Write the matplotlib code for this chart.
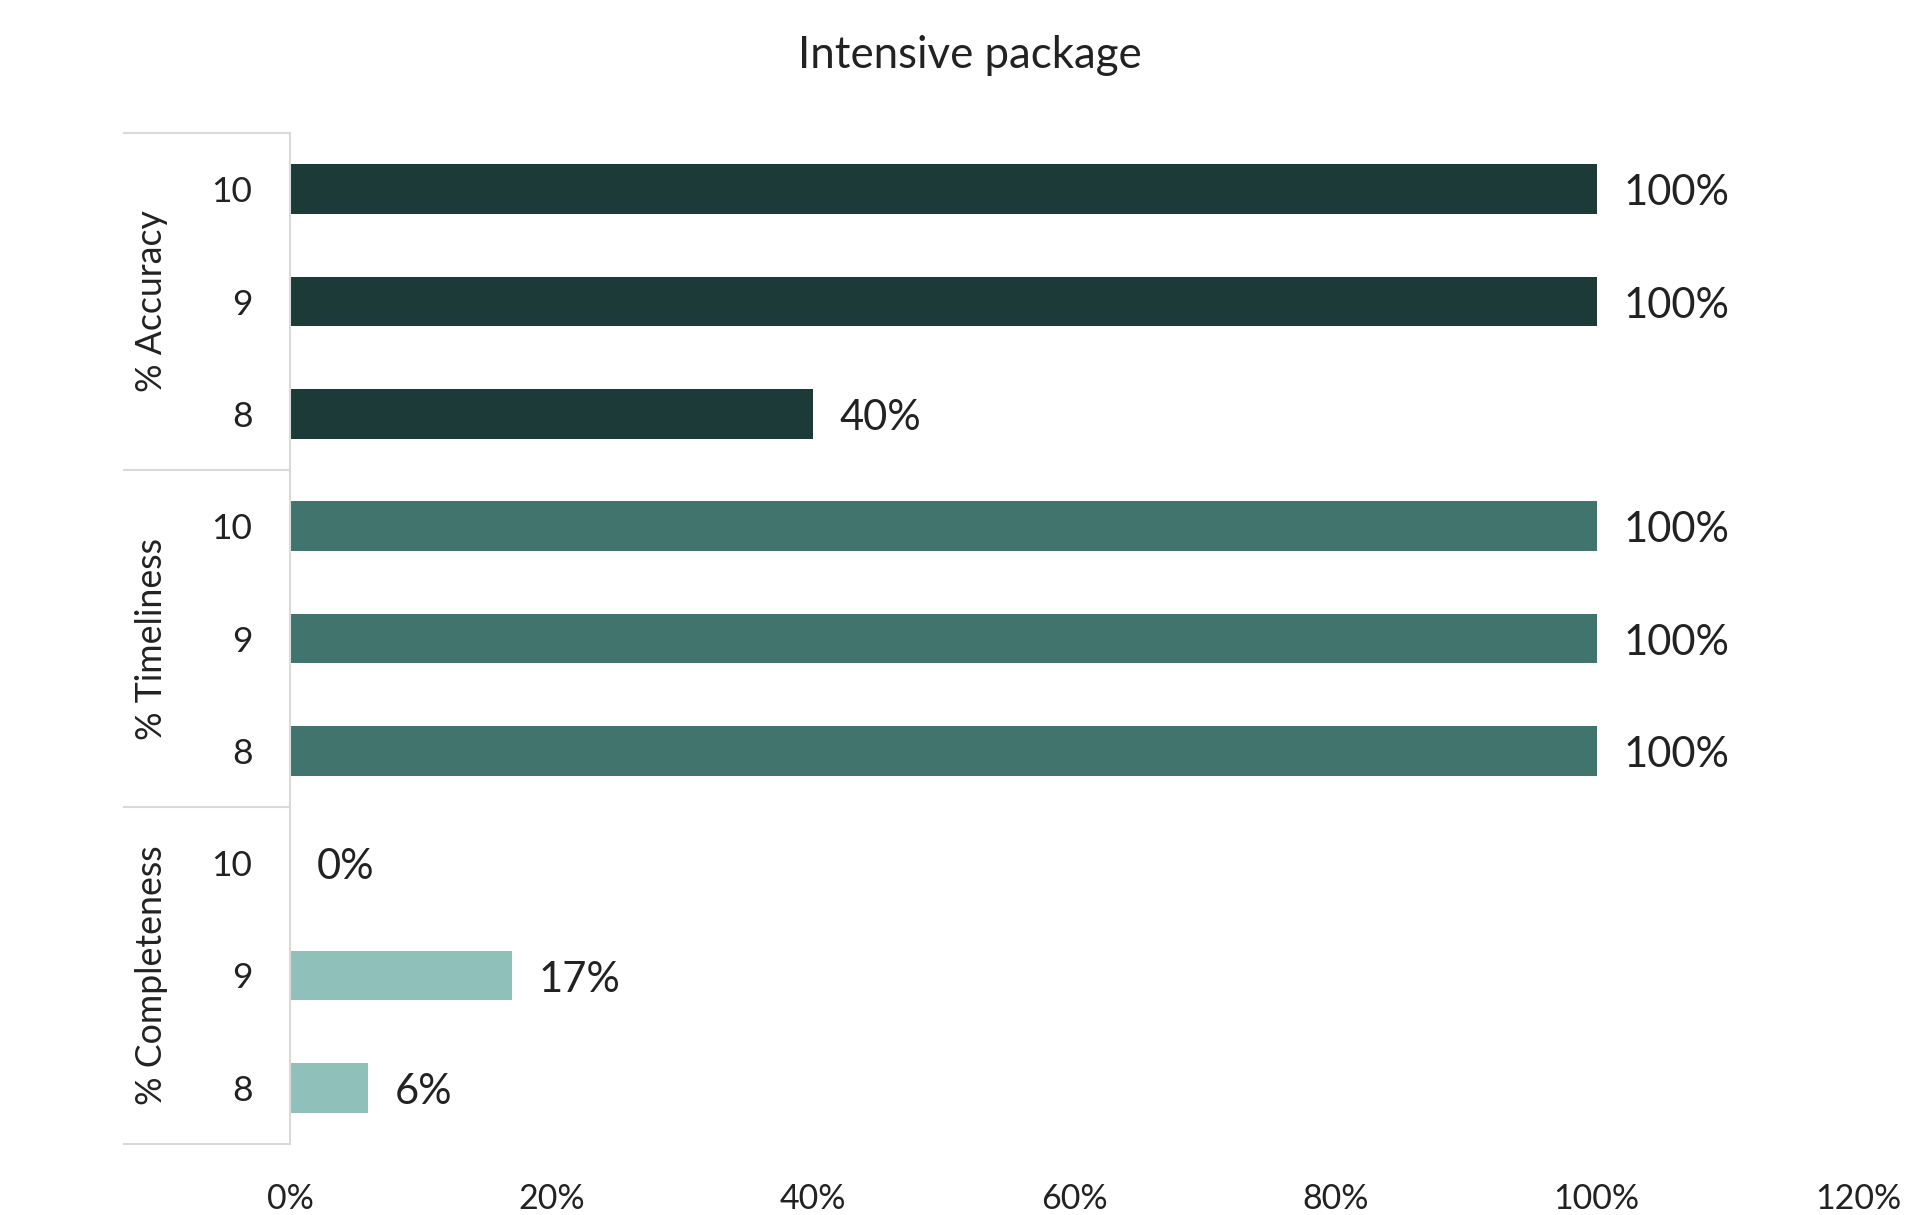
import matplotlib
matplotlib.use("Agg")
import matplotlib.pyplot as plt
import matplotlib.transforms as mtransforms

plt.rcParams['font.family'] = ['Lato', 'DejaVu Sans']

title = "Intensive package"
groups = ["% Accuracy", "% Timeliness", "% Completeness"]
sub_labels = ["10", "9", "8"]
accuracy = [100, 100, 40]
timeliness = [100, 100, 100]
completeness = [0, 17, 6]
colors = ["#1B3A38", "#41746D", "#8FC1BA"]
xticks = [0, 20, 40, 60, 80, 100, 120]

series = [accuracy, timeliness, completeness]

fig = plt.figure(figsize=(19.06, 12.15), dpi=100)
ax = fig.add_axes([290/1906, 1-1144/1215, (1858-290)/1906, (1144-133)/1215])

ypos = []
ylabels = []
for gi, vals in enumerate(series):
    ys = [gi*3 + i for i in range(len(vals))]
    ax.barh(ys, vals, height=0.44, color=colors[gi])
    for y, v in zip(ys, vals):
        ax.annotate(f"{v}%", (v, y), xytext=(19, -3), textcoords="offset points",
                    va="center", ha="left", fontsize=30, color="#222222")
    ypos += ys
    ylabels += sub_labels

ax.set_ylim(8.5, -0.5)
ax.set_xlim(0, 120)
ax.set_yticks(ypos)
ax.set_yticklabels(ylabels, fontsize=25.5, color="#222222")
ax.set_xticks(xticks)
ax.set_xticklabels([f"{t}%" for t in xticks], fontsize=24.5, color="#222222")
ax.tick_params(axis='y', length=0, pad=27)
ax.tick_params(axis='x', length=0, pad=28)
for s in ["top", "right", "bottom"]:
    ax.spines[s].set_visible(False)
ax.spines["left"].set_color("#D9D9D9")
ax.spines["left"].set_linewidth(1.5)

trans = mtransforms.blended_transform_factory(ax.transAxes, ax.transData)
left_ext = (124-290)/(1858-290)
for b in [-0.5, 2.5, 5.5, 8.5]:
    ax.plot([left_ext, 0], [b, b], transform=trans, color="#D9D9D9", lw=1.5, clip_on=False)

grp_x = (152-290)/(1858-290)
for gi, g in enumerate(groups):
    ax.text(grp_x, gi*3 + 1, g, transform=trans, rotation=90, ha="center", va="center",
            fontsize=25.7, color="#222222")

fig.text(970/1906, 1-56/1215, title, ha="center", va="center", fontsize=31.5, color="#222222")

fig.savefig("out.png", dpi=100, facecolor="white")
